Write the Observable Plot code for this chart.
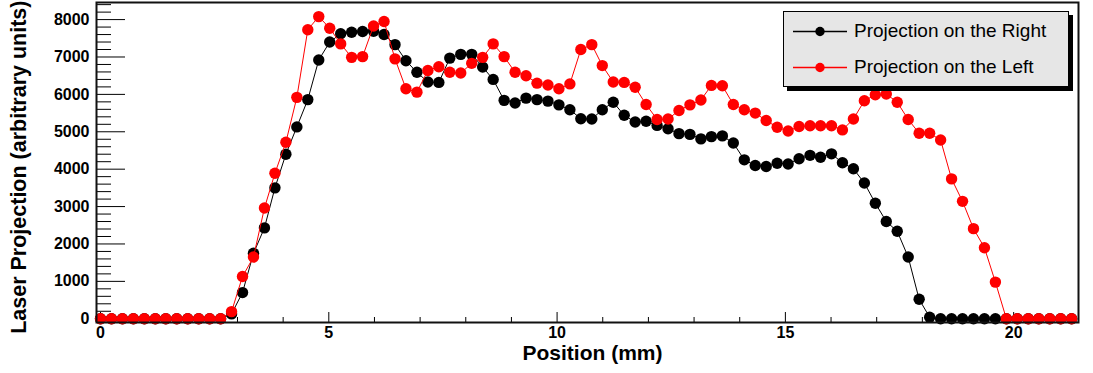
<!DOCTYPE html>
<html>
<head>
<meta charset="utf-8">
<script src="https://cdn.jsdelivr.net/npm/d3@7"></script>
<script src="https://cdn.jsdelivr.net/npm/@observablehq/plot@0.6"></script>
<style>
  html, body { margin: 0; padding: 0; background: #fff; }
  #wrap { position: relative; width: 1093px; height: 373px; font-family: "Liberation Sans", Arial, Helvetica, sans-serif; }
  #legend { position: absolute; left: 783px; top: 11px; width: 284px; height: 74px; background: #e6e6e6; border: 1px solid #000; box-shadow: 4px 4px 0 #000; }
  .row { position: absolute; left: 0; height: 20px; display: flex; align-items: center; }
  .row span { font-size: 19px; color: #000; margin-left: 7px; white-space: nowrap; }
</style>
</head>
<body>
<div id="wrap"></div>
<script>
// Position of each sample (mm)
const position = [0.00,0.24,0.48,0.72,0.96,1.20,1.43,1.67,1.91,2.15,2.39,2.63,2.87,3.11,3.35,3.59,3.82,4.06,4.30,4.54,
  4.78,5.02,5.26,5.50,5.74,5.98,6.21,6.45,6.69,6.93,7.17,7.41,7.65,7.89,8.13,8.37,8.60,8.84,9.08,9.32,
  9.56,9.80,10.04,10.28,10.52,10.76,10.99,11.23,11.47,11.71,11.95,12.19,12.43,12.67,12.91,13.15,13.38,13.62,13.86,14.10,
  14.34,14.58,14.82,15.06,15.30,15.54,15.77,16.01,16.25,16.49,16.73,16.97,17.21,17.45,17.69,17.93,18.16,18.40,18.64,18.88,
  19.12,19.36,19.60,19.84,20.08,20.32,20.55,20.79,21.03,21.27];

// Projection on the Right (black)
const projRight = [0,0,0,0,0,0,0,0,0,0,0,0,130,700,1750,2430,3500,4400,5130,5860,
  6920,7400,7620,7660,7680,7690,7600,7330,6900,6590,6330,6320,6970,7070,7070,6730,6400,5840,5770,5900,
  5860,5820,5720,5590,5350,5340,5590,5790,5440,5260,5280,5170,5080,4950,4930,4810,4870,4890,4700,4250,
  4100,4070,4160,4140,4280,4370,4320,4410,4170,4010,3630,3090,2600,2340,1650,520,40,0,0,0,
  0,0,0,0,0,0,0,0,0,0];

// Projection on the Left (red)
const projLeft = [0,0,0,0,0,0,0,0,0,0,0,0,190,1130,1650,2960,3890,4720,5920,7730,
  8080,7770,7350,6990,7010,7830,7950,6950,6150,6060,6640,6740,6590,6570,6830,6990,7350,7010,6590,6500,
  6300,6250,6150,6280,7200,7330,6770,6330,6320,6190,5730,5330,5340,5570,5720,5850,6240,6230,5730,5590,
  5500,5300,5120,5020,5140,5160,5160,5160,5050,5340,5830,5990,6010,5790,5330,4960,4960,4780,3740,3140,
  2410,1900,980,0,0,0,0,0,0,0];

const seriesNames = ["Projection on the Right", "Projection on the Left"];
const seriesColors = ["#000000", "#ff0000"];

const xMajor = [0, 5, 10, 15, 20];
const xMinor = d3.range(1, 22).filter(v => v % 5 !== 0);
const yMajor = [0, 1000, 2000, 3000, 4000, 5000, 6000, 7000, 8000];
const yMinor = d3.range(200, 8500, 200).filter(v => v % 1000 !== 0);

const right = position.map((x, i) => ({x, y: projRight[i]}));
const left = position.map((x, i) => ({x, y: projLeft[i]}));

const W = 1093, H = 373;
const mL = 96, mR = 15, mT = 2, mB = 51;
const frameW = W - mL - mR, frameH = H - mT - mB;
const font = "Liberation Sans, Arial, Helvetica, sans-serif";

const chart = Plot.plot({
  width: W, height: H,
  marginLeft: mL, marginRight: mR, marginTop: mT, marginBottom: mB,
  style: {fontFamily: font, background: "#fff", overflow: "visible"},
  x: {domain: [-0.088, 21.42]},
  y: {domain: [-100, 8457]},
  marks: [
    // inward ticks (ROOT style)
    Plot.tickY(yMajor, {y: d => d, insetRight: frameW - 29, stroke: "#000", strokeWidth: 1}),
    Plot.tickY(yMinor, {y: d => d, insetRight: frameW - 15, stroke: "#000", strokeWidth: 1}),
    Plot.tickX(xMajor, {x: d => d, insetTop: frameH - 10, stroke: "#000", strokeWidth: 1}),
    Plot.tickX(xMinor, {x: d => d, insetTop: frameH - 5, stroke: "#000", strokeWidth: 1}),
    Plot.axisY({ticks: yMajor, tickSize: 0, tickPadding: 7, tickFormat: d => String(d), fontSize: 16, fontWeight: "bold", label: null}),
    Plot.axisX({ticks: xMajor, tickSize: 0, tickPadding: 4, tickFormat: d => String(d), fontSize: 16, fontWeight: "bold", label: null}),
    Plot.text(["Position (mm)"], {frameAnchor: "bottom", lineAnchor: "middle", dy: 30.5, dx: 5, fontSize: 21, fontWeight: "bold", fill: "#000"}),
    Plot.text(["Laser Projection (arbitrary units)"], {frameAnchor: "top-left", lineAnchor: "middle", dx: -77, dy: -2, rotate: -90, textAnchor: "end", fontSize: 21.5, fontWeight: "bold", fill: "#000"}),
    // series
    Plot.line(right, {x: "x", y: "y", stroke: seriesColors[0], strokeWidth: 1}),
    Plot.dot(right, {x: "x", y: "y", r: 5.7, fill: seriesColors[0], stroke: "none"}),
    Plot.line(left, {x: "x", y: "y", stroke: seriesColors[1], strokeWidth: 1}),
    Plot.dot(left, {x: "x", y: "y", r: 5.7, fill: seriesColors[1], stroke: "none"}),
    Plot.frame({stroke: "#111", strokeWidth: 2})
  ]
});

const wrap = document.getElementById("wrap");
wrap.appendChild(chart);

// ROOT-style legend box
const legend = document.createElement("div");
legend.id = "legend";
seriesNames.forEach((name, i) => {
  const row = document.createElement("div");
  row.className = "row";
  row.style.top = (i === 0 ? 9 : 45) + "px";
  row.style.left = "9px";
  const svgNS = "http://www.w3.org/2000/svg";
  const s = document.createElementNS(svgNS, "svg");
  s.setAttribute("width", "54"); s.setAttribute("height", "20");
  const ln = document.createElementNS(svgNS, "line");
  ln.setAttribute("x1", "0"); ln.setAttribute("x2", "54");
  ln.setAttribute("y1", "10.5"); ln.setAttribute("y2", "10.5");
  ln.setAttribute("stroke", seriesColors[i]); ln.setAttribute("stroke-width", "1.3");
  const c = document.createElementNS(svgNS, "circle");
  c.setAttribute("cx", "27"); c.setAttribute("cy", "10.5"); c.setAttribute("r", "4.7");
  c.setAttribute("fill", seriesColors[i]);
  s.appendChild(ln); s.appendChild(c);
  const t = document.createElement("span");
  t.textContent = name;
  row.appendChild(s); row.appendChild(t);
  legend.appendChild(row);
});
wrap.appendChild(legend);
</script>
</body>
</html>
